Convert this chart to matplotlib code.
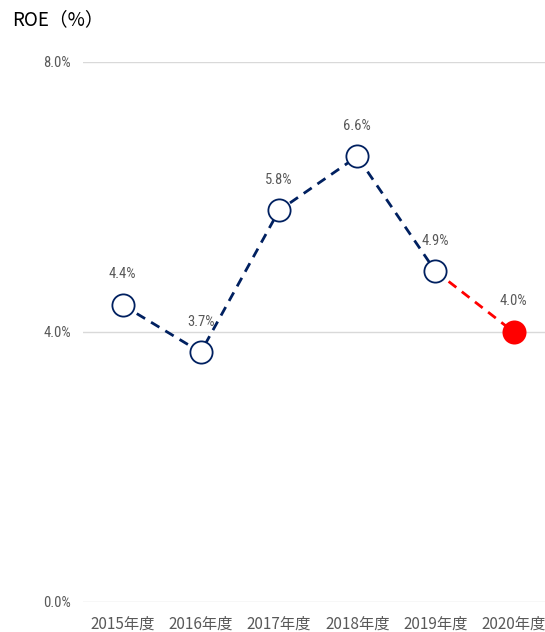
import matplotlib
matplotlib.use("Agg")
import matplotlib.pyplot as plt

plt.rcParams['font.family'] = ['Roboto', 'Noto Sans CJK JP', 'DejaVu Sans']

years = ["2015年度", "2016年度", "2017年度", "2018年度", "2019年度", "2020年度"]
roe = [4.4, 3.7, 5.8, 6.6, 4.9, 4.0]
labels = ["4.4%", "3.7%", "5.8%", "6.6%", "4.9%", "4.0%"]
yticks = [0.0, 4.0, 8.0]
ytick_labels = ["0.0%", "4.0%", "8.0%"]

navy = "#002060"
red = "#FF0000"
grey = "#595959"

fig = plt.figure(figsize=(5.45, 6.32), dpi=100)
ax = fig.add_axes([0.153, 0.0475, 0.847, 0.8544])

x = list(range(len(years)))
ax.plot(x[:5], roe[:5], color=navy, lw=2, ls=(0, (3.5, 2.5)), zorder=2)
ax.plot(x[4:], roe[4:], color=red, lw=2, ls=(0, (3.5, 2.5)), zorder=2)
ax.plot(x[:5], roe[:5], ls='none', marker='o', ms=16, mfc='white', mec=navy, mew=1.3, zorder=3)
ax.plot(x[5:], roe[5:], ls='none', marker='o', ms=16, mfc=red, mec=red, mew=1.3, zorder=3)

for xi, yi, lab in zip(x, roe, labels):
    ax.annotate(lab, (xi, yi), xytext=(0, 17), textcoords='offset points',
                ha='center', va='bottom', fontsize=10.5, color=grey,
                family=['Roboto Condensed', 'Roboto', 'DejaVu Sans'])

ax.set_xlim(-0.5, 5.4)
ax.set_ylim(0, 8)
ax.set_yticks(yticks)
ax.set_yticklabels(ytick_labels)
for t in ax.get_yticklabels():
    t.set_fontsize(10.5)
    t.set_color(grey)
    t.set_family(['Roboto Condensed', 'Roboto', 'DejaVu Sans'])
ax.set_xticks(x)
ax.set_xticklabels(years, fontsize=11, color=grey, family=['Noto Sans CJK JP', 'DejaVu Sans'])
ax.tick_params(axis='y', length=0, pad=9)
ax.tick_params(axis='x', length=0, pad=10)
ax.grid(axis='y', color='#D9D9D9', lw=1)
ax.set_axisbelow(True)
for s in ax.spines.values():
    s.set_visible(False)

fig.text(12/545, 1-20/632, "ROE（%）", fontsize=13.5, color='black', va='center', ha='left',
         family=['Noto Sans CJK JP', 'DejaVu Sans'])

fig.savefig("out.png", dpi=100)
